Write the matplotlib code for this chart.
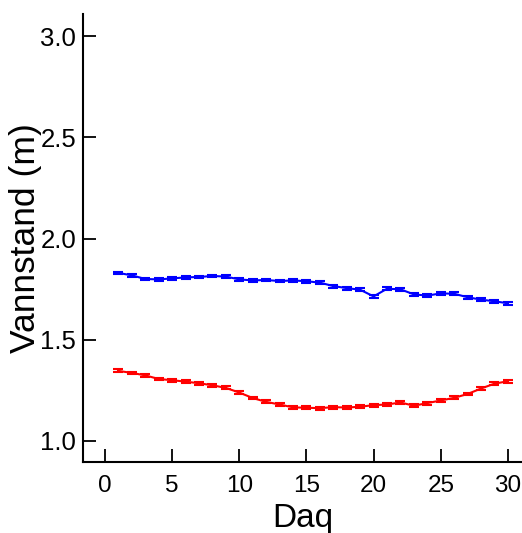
import matplotlib
matplotlib.use("Agg")
import matplotlib.pyplot as plt

plt.rcParams['font.family'] = ['Liberation Sans', 'DejaVu Sans']

dag = list(range(1, 31))
blaa = [1.830, 1.818, 1.800, 1.798, 1.803, 1.808, 1.810, 1.815, 1.812, 1.798,
        1.793, 1.795, 1.790, 1.793, 1.789, 1.782, 1.765, 1.755, 1.747, 1.714,
        1.752, 1.749, 1.724, 1.718, 1.729, 1.727, 1.710, 1.698, 1.690, 1.680]
roed = [1.346, 1.336, 1.324, 1.306, 1.300, 1.293, 1.285, 1.275, 1.262, 1.239,
        1.212, 1.193, 1.180, 1.166, 1.164, 1.162, 1.167, 1.165, 1.169, 1.177,
        1.180, 1.190, 1.174, 1.187, 1.200, 1.213, 1.232, 1.259, 1.283, 1.295]
feil_blaa = [0.007] * 30
feil_roed = [0.007] * 30

fig = plt.figure(figsize=(5.22, 5.33), dpi=100)
ax = fig.add_axes([0.159, 0.1332, 0.841, 0.8405])

ax.errorbar(dag, blaa, yerr=feil_blaa, color="blue", linewidth=1.5,
            elinewidth=1.5, capsize=3.5, capthick=1.5)
ax.errorbar(dag, roed, yerr=feil_roed, color="red", linewidth=1.5,
            elinewidth=1.5, capsize=3.5, capthick=1.5)

ax.set_xlim(-1.64, 31.05)
ax.set_ylim(0.896, 3.109)
ax.set_xticks([0, 5, 10, 15, 20, 25, 30])
ax.set_yticks([1.0, 1.5, 2.0, 2.5, 3.0])
ax.set_yticklabels(["1.0", "1.5", "2.0", "2.5", "3.0"])

for s in ["top", "right"]:
    ax.spines[s].set_visible(False)
for s in ["left", "bottom"]:
    ax.spines[s].set_linewidth(1.5)

ax.tick_params(direction="in", length=9.5, width=1.3)
ax.tick_params(axis="y", labelsize=18.5, pad=5)
ax.tick_params(axis="x", labelsize=17.5, pad=9)

ax.set_xlabel("Daq", fontsize=24, labelpad=5)
ax.set_ylabel("Vannstand (m)", fontsize=25.5, labelpad=-1)

fig.savefig("out.png", dpi=100)
